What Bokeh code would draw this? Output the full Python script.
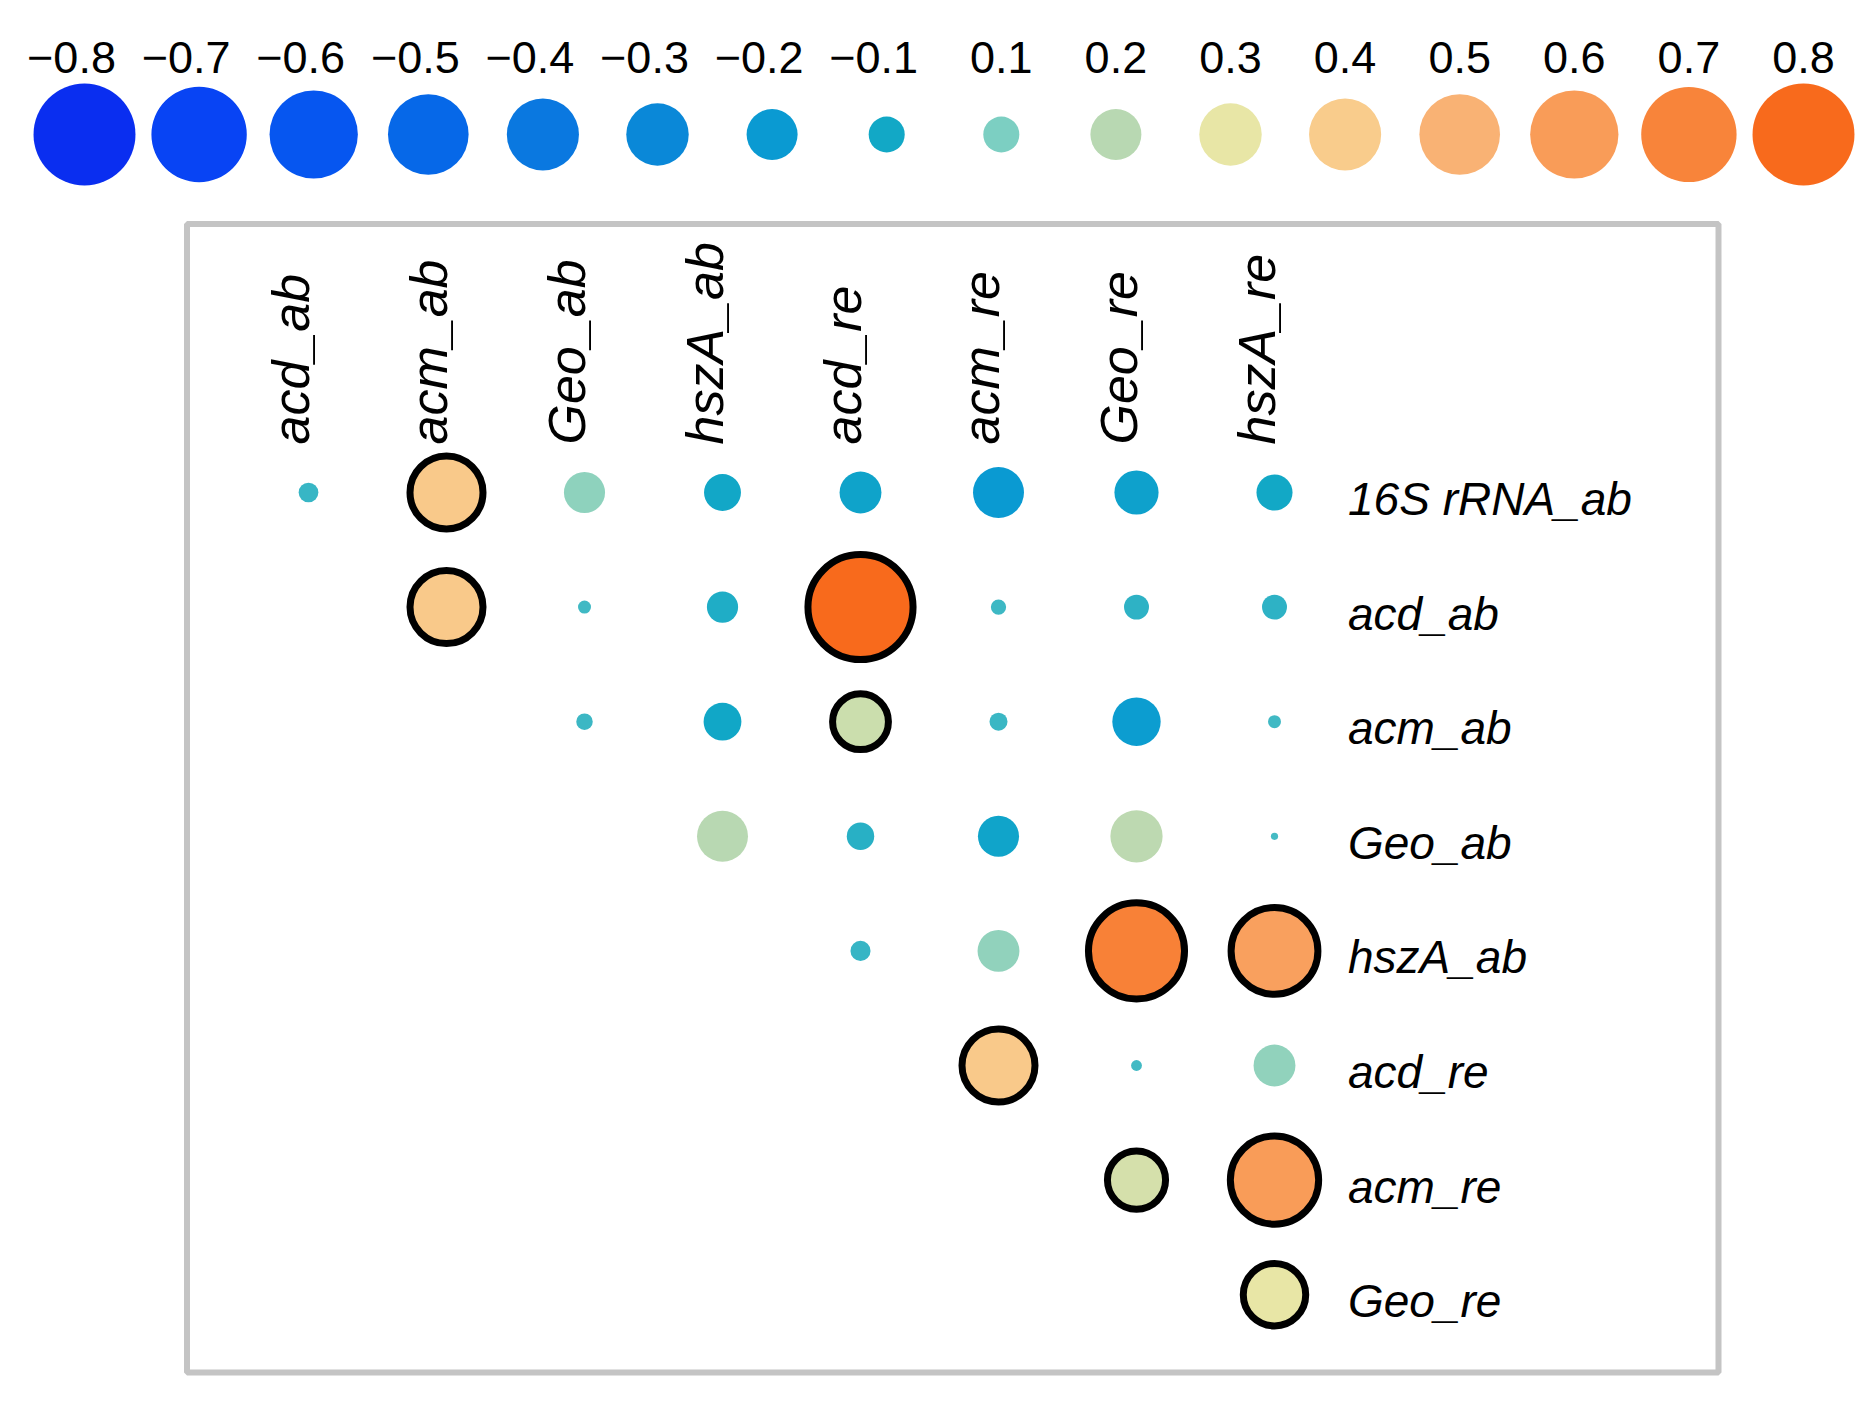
import numpy as np
from bokeh.plotting import figure
from bokeh.models import Range1d, ColumnDataSource, BoxAnnotation
from bokeh.core.properties import value
from bokeh.embed import file_html
from bokeh.resources import INLINE

# ---------------- data ----------------
legend_values = [-0.8, -0.7, -0.6, -0.5, -0.4, -0.3, -0.2, -0.1,
                 0.1, 0.2, 0.3, 0.4, 0.5, 0.6, 0.7, 0.8]
legend_colors = ["#0a2ef0", "#0844f4", "#0656f0", "#0668e8", "#0a78e0", "#0a88d8", "#0a9ad2", "#12a8c6",
                 "#7ccfc2", "#b8d8b2", "#e8e6a6", "#f9cc8c", "#f9b274", "#f99c58", "#f8843a", "#f86a1c"]

col_labels = ["acd_ab", "acm_ab", "Geo_ab", "hszA_ab", "acd_re", "acm_re", "Geo_re", "hszA_re"]
row_labels = ["16S rRNA_ab", "acd_ab", "acm_ab", "Geo_ab", "hszA_ab", "acd_re", "acm_re", "Geo_re"]

# correlation coefficients (row, column) for the upper triangle
r_16S  = [-0.03, 0.41, 0.13, -0.105, -0.135, -0.20, -0.15, -0.10]
r_acd  = [None, 0.41, -0.013, -0.075, 0.85, -0.018, -0.048, -0.048]
r_acm  = [None, None, -0.021, -0.11, 0.24, -0.025, -0.18, -0.013]
r_geo  = [None, None, None, 0.20, -0.058, -0.13, 0.21, -0.004]
r_hsz  = [None, None, None, None, -0.031, 0.135, 0.71, 0.58]
r_acdr = [None, None, None, None, None, 0.41, -0.009, 0.135]
r_acmr = [None, None, None, None, None, None, 0.26, 0.60]
r_geor = [None, None, None, None, None, None, None, 0.30]
matrix = [r_16S, r_acd, r_acm, r_geo, r_hsz, r_acdr, r_acmr, r_geor]

# significant cells (outlined)
sig_16S  = [0, 1, 0, 0, 0, 0, 0, 0]
sig_acd  = [0, 1, 0, 0, 1, 0, 0, 0]
sig_acm  = [0, 0, 0, 0, 1, 0, 0, 0]
sig_geo  = [0, 0, 0, 0, 0, 0, 0, 0]
sig_hsz  = [0, 0, 0, 0, 0, 0, 1, 1]
sig_acdr = [0, 0, 0, 0, 0, 1, 0, 0]
sig_acmr = [0, 0, 0, 0, 0, 0, 1, 1]
sig_geor = [0, 0, 0, 0, 0, 0, 0, 1]
signif = [sig_16S, sig_acd, sig_acm, sig_geo, sig_hsz, sig_acdr, sig_acmr, sig_geor]

# ---------------- helpers ----------------
SIZE_K = 114.0   # diameter (px) at |r| = 1, area proportional to |r|
LFONT = "Liberation Sans"


def hex2rgb(h):
    return np.array([int(h[i:i + 2], 16) for i in (1, 3, 5)], dtype=float)


anchor_v = np.array(legend_values)
anchor_c = np.array([hex2rgb(c) for c in legend_colors])


def colour_of(r):
    rgb = [np.interp(r, anchor_v, anchor_c[:, k]) for k in range(3)]
    return "#%02x%02x%02x" % tuple(int(round(v)) for v in rgb)


def size_of(r):
    return SIZE_K * np.sqrt(abs(r))

# ---------------- figure ----------------
W, H = 1856, 1386
CW, RH = 138.0, 114.6     # matrix cell width / height in px
X0, Y0 = 308.0, 492.0     # px position of first cell
LX0, LY0, LDX = 84.0, 134.0, 114.6   # legend first key position and spacing

p = figure(width=W, height=H, output_backend="svg", toolbar_location=None,
           x_range=Range1d(-X0 / CW, (W - X0) / CW),
           y_range=Range1d((H - Y0) / RH, -Y0 / RH),
           min_border=0)
p.axis.visible = False
p.grid.visible = False
p.outline_line_color = None
p.background_fill_color = "white"
p.extra_x_ranges = {"lx": Range1d(-LX0 / LDX, (W - LX0) / LDX)}
p.extra_y_ranges = {"ly": Range1d(-(H - LY0), LY0)}

# ---- colour / size key ----
lx = list(range(len(legend_values)))
p.scatter(x=lx, y=[0] * len(lx), size=[size_of(v) for v in legend_values],
          fill_color=legend_colors, line_color=None, marker="circle",
          x_range_name="lx", y_range_name="ly")

neg = [i for i, v in enumerate(legend_values) if v < 0]
pos = [i for i, v in enumerate(legend_values) if v > 0]
LAB_Y = 77
p.text(x=neg, y=[LAB_Y] * len(neg),
       text=["\u2212" + "%.1f" % abs(legend_values[i]) for i in neg],
       text_font=value(LFONT), text_font_size="45px", text_align="center",
       text_baseline="middle", text_color="black", x_offset=-13,
       x_range_name="lx", y_range_name="ly")
p.text(x=pos, y=[LAB_Y] * len(pos),
       text=["%.1f" % legend_values[i] for i in pos],
       text_font=value(LFONT), text_font_size="45px", text_align="center",
       text_baseline="middle", text_color="black",
       x_range_name="lx", y_range_name="ly")

# ---- panel border ----
p.add_layout(BoxAnnotation(left=(186.5 - X0) / CW, right=(1718 - X0) / CW,
                           top=(223.5 - Y0) / RH, bottom=(1372 - Y0) / RH,
                           fill_alpha=0, line_color="#c4c4c4", line_alpha=1.0, line_width=6))

# ---- correlation circles ----
xs, ys, cs, ss, sg = [], [], [], [], []
for j, row in enumerate(matrix):
    for i, r in enumerate(row):
        if r is None:
            continue
        xs.append(i)
        ys.append(j)
        cs.append(colour_of(r))
        ss.append(size_of(r))
        sg.append(signif[j][i])


def subset(flag):
    keep = [k for k, s in enumerate(sg) if s == flag]
    return ColumnDataSource(dict(x=[xs[k] for k in keep], y=[ys[k] for k in keep],
                                 c=[cs[k] for k in keep], s=[ss[k] for k in keep]))


p.scatter("x", "y", size="s", fill_color="c", line_color=None, marker="circle", source=subset(0))
p.scatter("x", "y", size="s", fill_color="c", line_color="black", line_width=7,
          marker="circle", source=subset(1))

# column labels (rotated, reading upward)
p.text(x=[i - 18.0 / CW for i in range(len(col_labels))], y=[-48.0 / RH] * len(col_labels),
       text=col_labels, angle=np.pi / 2, text_font=value(LFONT), text_font_style="italic",
       text_font_size="52px", text_align="left", text_baseline="alphabetic",
       text_color="black")

# row labels
p.text(x=[(1347.5 - X0) / CW] * len(row_labels), y=[j + 6.5 / RH for j in range(len(row_labels))],
       text=row_labels, text_font=value(LFONT), text_font_style="italic", text_font_size="46px",
       text_align="left", text_baseline="middle", text_color="black")

open("out.html", "w").write(file_html(p, INLINE))
